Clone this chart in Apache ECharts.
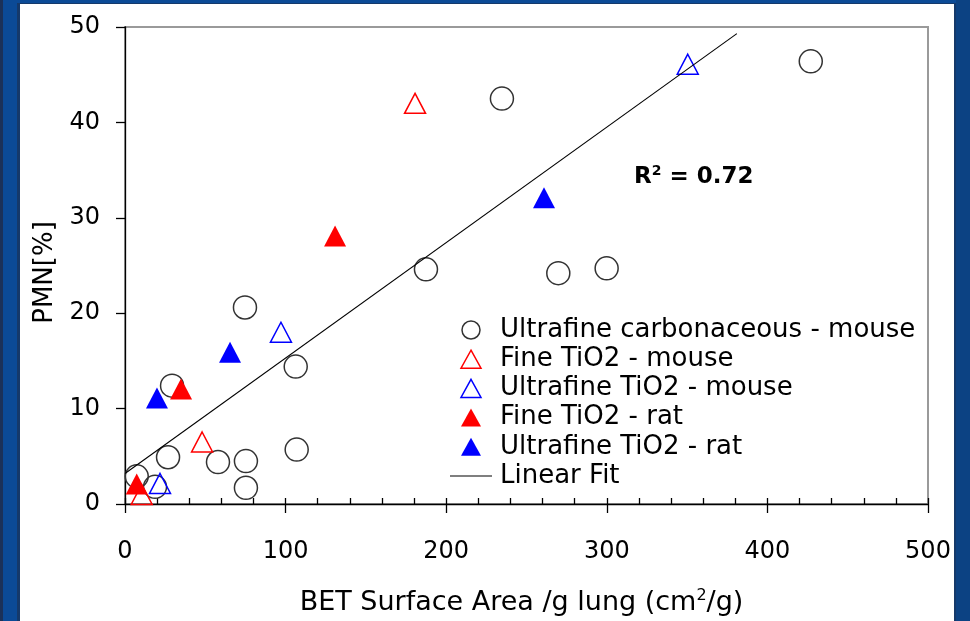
<!DOCTYPE html>
<html>
<head>
<meta charset="utf-8">
<script src="https://cdn.jsdelivr.net/npm/echarts@6/dist/echarts.min.js"></script>
<style>
  html, body { margin: 0; padding: 0; background: #0b4a96; }
  #frame { position: relative; width: 970px; height: 621px; background: #0b4a96; overflow: hidden; }
  .edge { position: absolute; }
  #paper { position: absolute; left: 20px; top: 4px; width: 934px; height: 617px; background: #ffffff; }
  #chart { position: absolute; left: 0; top: 0; width: 970px; height: 621px; }
</style>
</head>
<body>
<div id="frame">
  <div class="edge" style="left:0;top:0;width:3px;height:621px;background:#1b3158;"></div>
  <div class="edge" style="left:17px;top:3px;width:3px;height:618px;background:#15396a;"></div>
  <div class="edge" style="left:17px;top:3px;width:939px;height:1px;background:#15396a;"></div>
  <div class="edge" style="left:954px;top:3px;width:2px;height:618px;background:#15396a;"></div>
  <div class="edge" style="left:956px;top:0;width:14px;height:621px;background:#0c4283;"></div>
  <div id="paper"></div>
  <div id="chart"></div>
</div>
<script>
// Ultrafine carbonaceous particles, mouse
const carbonX = [427, 234.7, 187.4, 269.8, 299.9, 74.7, 106.3, 29.3, 106.9, 26.8, 57.9, 75.3, 75.3, 7.3, 18.7];
const carbonY = [46.4, 42.5, 24.6, 24.2, 24.7, 20.6, 14.4, 12.4, 5.7, 4.9, 4.4, 4.5, 1.7, 2.9, 1.8];
// Fine TiO2, mouse
const fineMouseX = [180.6, 48, 10.4];
const fineMouseY = [42.0, 6.5, 1.0];
// Ultrafine TiO2, mouse
const ufMouseX = [350.4, 97.1, 21.8];
const ufMouseY = [46.1, 18.0, 2.15];
// Fine TiO2, rat
const fineRatX = [130.8, 34.9, 7.3];
const fineRatY = [28.1, 12.05, 2.1];
// Ultrafine TiO2, rat
const ufRatX = [260.9, 65.4, 19.9];
const ufRatY = [32.1, 15.9, 11.1];
// Linear fit end points
const fitX = [0, 381];
const fitY = [3.2, 49.3];

const seriesNames = [
  'Ultrafine carbonaceous - mouse',
  'Fine TiO2 - mouse',
  'Ultrafine TiO2 - mouse',
  'Fine TiO2 - rat',
  'Ultrafine TiO2 - rat',
  'Linear Fit'
];
const xTicks = { min: 0, max: 500, step: 100 };
const yTicks = { min: 0, max: 50, step: 10 };

const FONT = 'DejaVu Sans';
const pairs = (xs, ys) => xs.map((x, i) => [x, ys[i]]);
const CLEAR = 'rgba(0,0,0,0)';
// legend icons: equilateral-looking triangle and a thin rule, kept at their own aspect
const TRI_ICON = 'path://M10,0L20,18H0Z';
const RULE_ICON = 'path://M0,0H42V1.2H0Z';

const chart = echarts.init(document.getElementById('chart'), null, { renderer: 'canvas' });

const axisLine = { lineStyle: { color: '#000', width: 1.3 } };

chart.setOption({
  animation: false,
  backgroundColor: 'transparent',
  textStyle: { fontFamily: FONT, color: '#000' },
  title: {
    text: '{r|R}{s|2}{r| = 0.72}',
    left: 634, top: 164, padding: 0,
    textStyle: {
      rich: {
        r: { fontFamily: FONT, fontSize: 23, fontWeight: 'bold', color: '#000', lineHeight: 26 },
        s: { fontFamily: FONT, fontSize: 14, fontWeight: 'bold', color: '#000', verticalAlign: 'top', lineHeight: 14 }
      }
    }
  },
  grid: {
    left: 125, top: 27, right: 42, bottom: 117,
    show: true, borderColor: '#9a9a9a', borderWidth: 2, backgroundColor: CLEAR,
    containLabel: false, outerBoundsMode: 'none'
  },
  legend: {
    orient: 'vertical', left: 450, top: 317, padding: 0,
    itemGap: 3.2, itemWidth: 42, itemHeight: 18,
    symbolKeepAspect: true,
    selectedMode: false,
    textStyle: { fontFamily: FONT, fontSize: 26, color: '#000', padding: [0, 0, 0, 3] },
    data: [
      { name: seriesNames[0], icon: 'circle', itemStyle: { borderWidth: 1.5, borderColor: '#333', color: CLEAR, opacity: 1 } },
      { name: seriesNames[1], icon: TRI_ICON, itemStyle: { borderWidth: 1.5, borderColor: '#ff0000', color: CLEAR, opacity: 1 } },
      { name: seriesNames[2], icon: TRI_ICON, itemStyle: { borderWidth: 1.5, borderColor: '#0000ff', color: CLEAR, opacity: 1 } },
      { name: seriesNames[3], icon: TRI_ICON, itemStyle: { borderWidth: 0, color: '#ff0000', opacity: 1 } },
      { name: seriesNames[4], icon: TRI_ICON, itemStyle: { borderWidth: 0, color: '#0000ff', opacity: 1 } },
      { name: seriesNames[5], icon: RULE_ICON, itemStyle: { color: '#000', borderWidth: 0, opacity: 1 } }
    ]
  },
  xAxis: [
    {
      type: 'value', min: xTicks.min, max: xTicks.max, interval: xTicks.step,
      position: 'bottom',
      axisLine: Object.assign({ onZero: false }, axisLine),
      axisTick: { show: true, inside: false, length: 9, lineStyle: { color: '#000', width: 1.3 } },
      axisLabel: { fontFamily: FONT, fontSize: 24, color: '#000', margin: 36 },
      splitLine: { show: false },
      name: '{a|BET Surface Area /g lung (cm}{s|2}{a|/g)}',
      nameLocation: 'middle', nameGap: 84,
      nameTextStyle: {
        padding: [0, 10, 0, 0],
        rich: {
          a: { fontFamily: FONT, fontSize: 27, color: '#000', lineHeight: 30 },
          s: { fontFamily: FONT, fontSize: 16, color: '#000', verticalAlign: 'top', lineHeight: 16 }
        }
      }
    },
    {
      // inner half of the major ticks and the minor ticks
      type: 'value', min: xTicks.min, max: xTicks.max, interval: xTicks.step,
      position: 'bottom', offset: 0,
      axisLine: { show: false, onZero: false },
      axisTick: { show: true, inside: true, length: 6, lineStyle: { color: '#000', width: 1.3 } },
      minorTick: { show: true, splitNumber: 5, length: 6, lineStyle: { color: '#000', width: 1.3 } },
      axisLabel: { show: false },
      splitLine: { show: false },
      minorSplitLine: { show: false }
    }
  ],
  yAxis: {
    type: 'value', min: yTicks.min, max: yTicks.max, interval: yTicks.step,
    axisLine: Object.assign({ onZero: false }, axisLine),
    axisTick: { show: true, inside: false, length: 9, lineStyle: { color: '#000', width: 1.3 } },
    axisLabel: { fontFamily: FONT, fontSize: 24, color: '#000', margin: 25 },
    splitLine: { show: false },
    name: 'PMN[%]', nameLocation: 'middle', nameGap: 66,
    nameTextStyle: { fontFamily: FONT, fontSize: 26, color: '#000', padding: [0, 14, 0, 0] }
  },
  series: [
    {
      name: seriesNames[0], type: 'scatter', symbol: 'circle', symbolSize: 23,
      itemStyle: { color: CLEAR, borderColor: '#333', borderWidth: 1.5, opacity: 1 },
      data: pairs(carbonX, carbonY)
    },
    {
      name: seriesNames[1], type: 'scatter', symbol: 'triangle', symbolSize: [21, 20],
      itemStyle: { color: CLEAR, borderColor: '#ff0000', borderWidth: 1.5, opacity: 1 },
      data: pairs(fineMouseX, fineMouseY)
    },
    {
      name: seriesNames[2], type: 'scatter', symbol: 'triangle', symbolSize: [21, 20],
      itemStyle: { color: CLEAR, borderColor: '#0000ff', borderWidth: 1.5, opacity: 1 },
      data: pairs(ufMouseX, ufMouseY)
    },
    {
      name: seriesNames[3], type: 'scatter', symbol: 'triangle', symbolSize: [22, 21],
      itemStyle: { color: '#ff0000', opacity: 1 },
      data: pairs(fineRatX, fineRatY)
    },
    {
      name: seriesNames[4], type: 'scatter', symbol: 'triangle', symbolSize: [22, 21],
      itemStyle: { color: '#0000ff', opacity: 1 },
      data: pairs(ufRatX, ufRatY)
    },
    {
      name: seriesNames[5], type: 'line', symbol: 'none', showSymbol: false,
      lineStyle: { color: '#000', width: 1.1 },
      itemStyle: { color: '#000' },
      data: pairs(fitX, fitY)
    }
  ]
});
</script>
</body>
</html>
